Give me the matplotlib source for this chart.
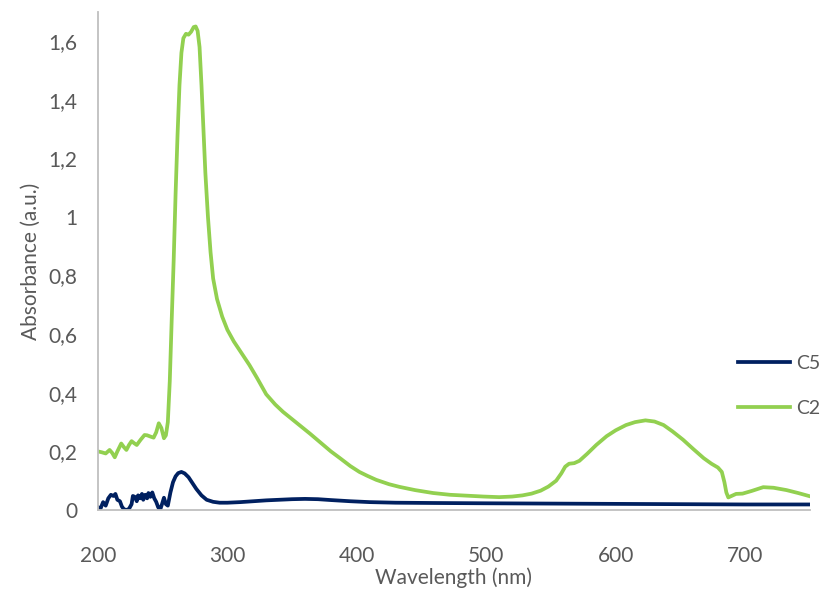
import numpy as np
import matplotlib.pyplot as plt

wl_c2 = [200, 203, 206, 209, 211, 213, 215, 218, 220, 222, 224, 226, 228, 230, 233, 236, 238, 241, 243,
         245, 247, 249, 251, 252.5, 254, 255.5, 257, 258.5, 260, 261.5, 263, 264.5, 266, 268, 270, 272,
         274, 275.5, 277, 278.5, 280, 281.5, 283, 285, 287, 289, 292, 296, 300, 305, 311, 317, 323, 330,
         337, 343, 350, 357, 364, 372, 380, 387, 395, 402, 408, 415, 425, 433, 445, 459, 472, 485, 498,
         510, 520, 528, 535, 542, 548, 554, 558, 561, 564, 568, 572, 578, 585, 593, 600, 608, 615, 623,
         630, 637, 644, 652, 660, 668, 674, 679, 682, 684, 685.5, 687, 689, 693, 698, 705, 714, 722, 732,
         741, 750]
abs_c2 = [0.200, 0.197, 0.193, 0.205, 0.195, 0.180, 0.200, 0.227, 0.215, 0.205, 0.222, 0.235, 0.228,
          0.222, 0.240, 0.256, 0.255, 0.250, 0.247, 0.265, 0.296, 0.280, 0.245, 0.255, 0.300, 0.440,
          0.650, 0.850, 1.080, 1.280, 1.450, 1.560, 1.610, 1.625, 1.622, 1.632, 1.648, 1.650, 1.635,
          1.580, 1.450, 1.300, 1.150, 1.000, 0.880, 0.790, 0.720, 0.660, 0.615, 0.575, 0.535, 0.495,
          0.450, 0.395, 0.360, 0.335, 0.310, 0.285, 0.260, 0.230, 0.200, 0.177, 0.150, 0.130, 0.117,
          0.103, 0.088, 0.079, 0.068, 0.058, 0.052, 0.049, 0.046, 0.044, 0.046, 0.050, 0.056, 0.066,
          0.080, 0.100, 0.125, 0.148, 0.158, 0.160, 0.168, 0.192, 0.222, 0.252, 0.272, 0.290, 0.300,
          0.306, 0.302, 0.290, 0.268, 0.240, 0.208, 0.177, 0.158, 0.145, 0.130, 0.095, 0.060, 0.043,
          0.047, 0.055, 0.056, 0.065, 0.078, 0.076, 0.068, 0.058, 0.047]

wl_c5 = [200, 202, 204, 206, 208, 210, 212, 213.5, 215, 217, 218.5, 220, 222, 224, 226, 227, 228.5, 230,
         231, 232.5, 234, 235, 236.5, 238, 239, 240.5, 242, 243.5, 245, 246.5, 248, 249.5, 251, 252.5,
         254, 256, 258, 260, 262, 264.5, 267, 270, 273, 276, 280, 284, 289, 294, 300, 310, 320, 330, 340,
         350, 360, 370, 380, 395, 410, 430, 460, 500, 550, 600, 650, 700, 750]
abs_c5 = [0.010, 0.005, 0.027, 0.015, 0.040, 0.052, 0.048, 0.055, 0.035, 0.030, 0.012, 0.003, 0.000,
          0.004, 0.020, 0.048, 0.045, 0.030, 0.050, 0.040, 0.055, 0.035, 0.052, 0.040, 0.058, 0.045,
          0.060, 0.040, 0.028, 0.010, 0.000, 0.020, 0.042, 0.020, 0.015, 0.060, 0.095, 0.115, 0.126,
          0.130, 0.125, 0.112, 0.092, 0.072, 0.050, 0.035, 0.028, 0.025, 0.025, 0.027, 0.030, 0.033,
          0.035, 0.037, 0.038, 0.037, 0.034, 0.030, 0.027, 0.025, 0.024, 0.023, 0.022, 0.021, 0.020,
          0.019, 0.019]

x_ticks = [200, 300, 400, 500, 600, 700]
y_ticks = [0, 0.2, 0.4, 0.6, 0.8, 1.0, 1.2, 1.4, 1.6]
y_labels = ['0', '0,2', '0,4', '0,6', '0,8', '1', '1,2', '1,4', '1,6']

plt.rcParams['font.family'] = ['Lato', 'DejaVu Sans']

fig = plt.figure(figsize=(8.23, 5.91), dpi=100)
ax = fig.add_axes([0.119, 0.137, 0.865, 0.843])

ax.plot(wl_c5, abs_c5, color='#002060', lw=2.7, label='C5', solid_joinstyle='round')
ax.plot(wl_c2, abs_c2, color='#92D050', lw=2.7, label='C2', solid_joinstyle='round')

ax.set_xlim(200, 750)
ax.set_ylim(0, 1.7)
ax.set_xticks(x_ticks)
ax.set_yticks(y_ticks)
ax.set_yticklabels(y_labels)
ax.tick_params(length=0, labelsize=15, labelcolor='#595959')
ax.tick_params(axis='x', pad=26)
ax.tick_params(axis='y', pad=15)

for s in ['top', 'right']:
    ax.spines[s].set_visible(False)
for s in ['left', 'bottom']:
    ax.spines[s].set_color('#BFBFBF')
    ax.spines[s].set_linewidth(1.3)

ax.set_xlabel('Wavelength (nm)', fontsize=15, color='#595959', labelpad=1)
ax.set_ylabel('Absorbance (a.u.)', fontsize=15, color='#595959', labelpad=5)

leg = ax.legend(loc='center left', bbox_to_anchor=(0.899, 0.249), frameon=False, fontsize=14,
                handlelength=2.7, handletextpad=0.3, labelspacing=1.45, borderpad=0,
                borderaxespad=0)
for t in leg.get_texts():
    t.set_color('#595959')

fig.savefig('out.png', dpi=100)
